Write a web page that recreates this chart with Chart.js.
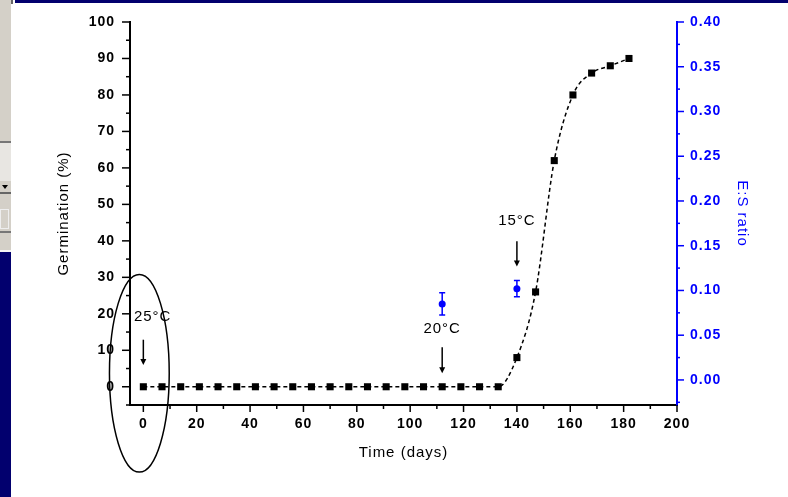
<!DOCTYPE html>
<html><head><meta charset="utf-8">
<script src="https://cdn.jsdelivr.net/npm/chart.js@4.4.1/dist/chart.umd.min.js"></script>
<style>
html,body{margin:0;padding:0;background:#fff;}
#wrap{position:relative;width:788px;height:497px;overflow:hidden;background:#fff;}
canvas{position:absolute;left:0;top:0;}
.f{position:absolute;}
</style></head><body>
<div id="wrap">
<canvas id="c" width="788" height="497"></canvas>
<div class="f" style="left:15px;top:0;width:773px;height:3px;background:#02006e"></div>
<div class="f" style="left:11px;top:0;width:2px;height:4px;background:#666"></div>
<div class="f" style="left:0;top:0;width:11px;height:141px;background:#d4d0c8"></div>
<div class="f" style="left:0;top:141px;width:11px;height:2px;background:#777"></div>
<div class="f" style="left:0;top:143px;width:11px;height:38px;background:#e8e6e2"></div>
<div class="f" style="left:0;top:181px;width:11px;height:11px;background:#d4d0c8"></div>
<div class="f" style="left:2px;top:185px;width:0;height:0;border-left:3px solid transparent;border-right:3px solid transparent;border-top:4px solid #000"></div>
<div class="f" style="left:0;top:192px;width:11px;height:2px;background:#666"></div>
<div class="f" style="left:0;top:194px;width:11px;height:37px;background:#d4d0c8"></div>
<div class="f" style="left:0;top:209px;width:9px;height:20px;border:1px solid #eee;box-sizing:border-box"></div>
<div class="f" style="left:0;top:231px;width:11px;height:2px;background:#777"></div>
<div class="f" style="left:0;top:233px;width:11px;height:17px;background:#d4d0c8"></div>
<div class="f" style="left:0;top:250px;width:11px;height:2px;background:#f4f4f4"></div>
<div class="f" style="left:0;top:252px;width:11px;height:245px;background:#02006e"></div>
</div>
<script>
// ---- data ----
const days = [0,7,14,21,28,35,42,49,56,63,70,77,84,91,98,105,112,119,126,133,140,147,154,161,168,175,182];
const germination = [0,0,0,0,0,0,0,0,0,0,0,0,0,0,0,0,0,0,0,0,8,26,62,80,86,88,90];
const esDays = [112,140];
const esRatio = [0.085,0.102];
const esError = [0.0125,0.009];
const xTicks = [0,20,40,60,80,100,120,140,160,180,200];
const yTicks = [0,10,20,30,40,50,60,70,80,90,100];
const y1Ticks = [0,0.05,0.10,0.15,0.20,0.25,0.30,0.35,0.40];
const tempLabels = ['25°C','20°C','15°C'];
const tempLabelX = [3.5,112,140];
const tempLabelY = [19.3,15.8,45.4];
const arrowX = [0,112,140];
const arrowTop = [12.9,10.8,39.9];
const arrowBottom = [6.0,3.7,33.0];
const ellipse = {cx:-1.5, cy:3.7, rx:11.2, ry:27.1};

const BLUE = '#0000ff';
const FONT = 'Arial, "Liberation Sans", sans-serif';

const spacingPlugin = {
  id:'spacing',
  beforeUpdate(chart){ chart.ctx.letterSpacing='1px'; },
  beforeDraw(chart){ chart.ctx.letterSpacing='1px'; }
};

const decoPlugin = {
  id:'deco',
  afterDraw(chart){
    const ctx = chart.ctx;
    const xs = chart.scales.x, ys = chart.scales.y, y1 = chart.scales.y1;
    ctx.save();
    ctx.lineWidth = 1.5;
    ctx.strokeStyle = '#000';
    const xb = xs.top;
    for (let v=0; v<=200; v+=10){
      const px = xs.getPixelForValue(v);
      const len = (v%20===0)?7:4;
      ctx.beginPath(); ctx.moveTo(px,xb); ctx.lineTo(px,xb+len); ctx.stroke();
    }
    const yl = ys.right;
    for (let v=-5; v<=100; v+=5){
      const py = ys.getPixelForValue(v);
      const len = (v%10===0)?8:4;
      ctx.beginPath(); ctx.moveTo(yl,py); ctx.lineTo(yl-len,py); ctx.stroke();
    }
    ctx.strokeStyle = BLUE;
    const yr = y1.left;
    for (let i=-1; i<=16; i++){
      const v = i*0.025;
      const py = y1.getPixelForValue(v);
      if (py > y1.bottom+0.5) continue;
      const len = (i%2===0)?7:3;
      ctx.beginPath(); ctx.moveTo(yr,py); ctx.lineTo(yr+len,py); ctx.stroke();
    }
    ctx.strokeStyle = BLUE; ctx.lineWidth = 1.5;
    for (let i=0;i<esDays.length;i++){
      const px = xs.getPixelForValue(esDays[i]);
      const pt = y1.getPixelForValue(esRatio[i]+esError[i]);
      const pb = y1.getPixelForValue(esRatio[i]-esError[i]);
      ctx.beginPath();
      ctx.moveTo(px,pt); ctx.lineTo(px,pb);
      ctx.moveTo(px-3,pt); ctx.lineTo(px+3,pt);
      ctx.moveTo(px-3,pb); ctx.lineTo(px+3,pb);
      ctx.stroke();
    }
    ctx.strokeStyle='#000'; ctx.fillStyle='#000'; ctx.lineWidth=1.5;
    for (let i=0;i<arrowX.length;i++){
      const px = xs.getPixelForValue(arrowX[i]);
      const t = ys.getPixelForValue(arrowTop[i]);
      const b = ys.getPixelForValue(arrowBottom[i]);
      ctx.beginPath(); ctx.moveTo(px,t); ctx.lineTo(px,b-4); ctx.stroke();
      ctx.beginPath(); ctx.moveTo(px-3,b-6); ctx.lineTo(px+3,b-6); ctx.lineTo(px,b); ctx.closePath(); ctx.fill();
    }
    ctx.letterSpacing='1px';
    ctx.font = '15px '+FONT;
    ctx.textAlign='center'; ctx.textBaseline='middle';
    ctx.fillStyle='#000';
    for (let i=0;i<tempLabels.length;i++){
      ctx.fillText(tempLabels[i], xs.getPixelForValue(tempLabelX[i]), ys.getPixelForValue(tempLabelY[i]));
    }
    const cx = xs.getPixelForValue(ellipse.cx), cy = ys.getPixelForValue(ellipse.cy);
    const rx = Math.abs(xs.getPixelForValue(ellipse.cx+ellipse.rx)-cx);
    const ry = Math.abs(ys.getPixelForValue(ellipse.cy+ellipse.ry)-cy);
    ctx.beginPath(); ctx.ellipse(cx,cy,rx,ry,0,0,Math.PI*2);
    ctx.strokeStyle='#000'; ctx.lineWidth=1.5; ctx.stroke();
    ctx.restore();
  }
};

new Chart(document.getElementById('c'), {
  type:'line',
  data:{
    datasets:[
      {
        label:'Germination',
        data: days.map((d,i)=>({x:d,y:germination[i]})),
        yAxisID:'y',
        borderColor:'#000',
        backgroundColor:'#000',
        borderWidth:1.5,
        borderDash:[4,3],
        cubicInterpolationMode:'monotone',
        pointStyle:'rect',
        pointRadius:5,
        pointBorderWidth:0,
        clip:false
      },
      {
        label:'E:S ratio',
        data: esDays.map((d,i)=>({x:d,y:esRatio[i]})),
        yAxisID:'y1',
        showLine:false,
        borderColor:BLUE,
        backgroundColor:BLUE,
        pointStyle:'circle',
        pointRadius:3.5,
        pointBorderWidth:0
      }
    ]
  },
  options:{
    responsive:false,
    animation:false,
    events:[],
    layout:{padding:{top:22,left:0,right:0,bottom:0}},
    plugins:{legend:{display:false},tooltip:{enabled:false}},
    scales:{
      x:{
        type:'linear', position:'bottom', min:-5, max:200,
        afterBuildTicks:s=>{s.ticks = xTicks.map(v=>({value:v}));},
        afterFit:s=>{s.height=92;},
        grid:{display:false},
        border:{display:true,color:'#000',width:2},
        ticks:{color:'#000',padding:3,maxRotation:0,autoSkip:false,font:{family:FONT,size:14,weight:'bold'}},
        title:{display:true,text:'Time (days)',color:'#000',font:{family:FONT,size:15},padding:{top:0,bottom:35}}
      },
      y:{
        type:'linear', position:'left', min:-5, max:100,
        afterBuildTicks:s=>{s.ticks = yTicks.map(v=>({value:v}));},
        afterFit:s=>{s.width=130;},
        grid:{display:false},
        border:{display:true,color:'#000',width:2},
        ticks:{color:'#000',padding:7,autoSkip:false,font:{family:FONT,size:14,weight:'bold'}},
        title:{display:true,text:'Germination (%)',color:'#000',font:{family:FONT,size:15},padding:{top:55,bottom:0}}
      },
      y1:{
        type:'linear', position:'right', min:-0.028, max:0.40,
        afterBuildTicks:s=>{s.ticks = y1Ticks.map(v=>({value:v}));},
        afterFit:s=>{s.width=111;},
        grid:{display:false},
        border:{display:true,color:BLUE,width:2},
        ticks:{color:BLUE,padding:5,autoSkip:false,font:{family:FONT,size:14,weight:'bold'},callback:v=>Number(v).toFixed(2)},
        title:{display:true,text:'E:S ratio',color:BLUE,font:{family:FONT,size:15},padding:{top:37,bottom:0}}
      }
    }
  },
  plugins:[spacingPlugin, decoPlugin]
});
</script>
</body></html>
